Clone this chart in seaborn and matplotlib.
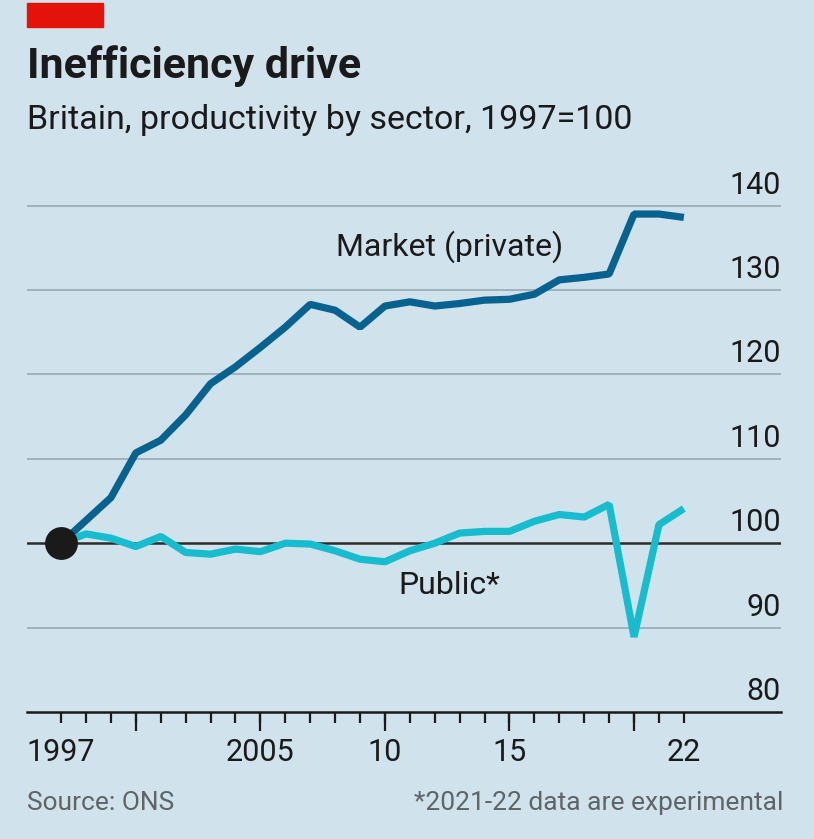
import matplotlib
matplotlib.use("Agg")
import matplotlib.pyplot as plt
import matplotlib.transforms as mtransforms
from matplotlib.patches import Rectangle
import numpy as np
import pandas as pd
import seaborn as sns

# ---- data ----
years = list(range(1997, 2023))
market = [100.0, 102.7, 105.4, 110.7, 112.2, 115.2, 118.9, 120.9, 123.2, 125.6,
          128.3, 127.6, 125.6, 128.1, 128.6, 128.1, 128.4, 128.8, 128.9, 129.5,
          131.2, 131.5, 131.9, 139.0, 139.0, 138.6]
public = [100.0, 101.1, 100.6, 99.6, 100.8, 98.9, 98.7, 99.3, 99.0, 100.0,
          99.9, 99.1, 98.1, 97.8, 99.1, 100.0, 101.2, 101.4, 101.4, 102.6,
          103.4, 103.1, 104.6, 88.9, 102.2, 104.1]
series_names = ["Market (private)", "Public*"]
y_ticks = [80, 90, 100, 110, 120, 130, 140]
x_label_pos = [1997, 2005, 2010, 2015, 2022]
x_label_txt = ["1997", "2005", "10", "15", "22"]
x_major = [2000, 2005, 2010, 2015, 2020]

BG = "#d0e2eb"
DARK = "#08628f"
CYAN = "#17bccf"
TXT = "#1a1a1a"
GREY = "#5f6468"

sns.set_theme(style="white")
plt.rcParams["font.family"] = ["Roboto", "DejaVu Sans"]

df = pd.DataFrame({
    "year": years * 2,
    "value": market + public,
    "sector": [series_names[0]] * len(years) + [series_names[1]] * len(years),
})

fig = plt.figure(figsize=(8.14, 8.39), dpi=100, facecolor=BG)
W, H = 814, 839
ax_left, ax_right = 27 / W, 781 / W
ax_bottom = (H - 712) / H
ax_top = (H - 163.4) / H
ax = fig.add_axes([ax_left, ax_bottom, ax_right - ax_left, ax_top - ax_bottom])
ax.set_facecolor(BG)

ax.set_xlim(1995.63, 2025.9)
ax.set_ylim(80, 145)

# gridlines
for v in y_ticks[1:]:
    if v == 100:
        ax.axhline(v, color="#2b2b2b", lw=1.8, zorder=1)
    else:
        ax.axhline(v, color="#9fb1bc", lw=1.4, zorder=1)

sns.lineplot(data=df, x="year", y="value", hue="sector",
             palette={series_names[0]: DARK, series_names[1]: CYAN},
             linewidth=5.2, legend=False, ax=ax, zorder=3,
             solid_joinstyle="bevel", solid_capstyle="butt")
sns.scatterplot(x=[years[0]], y=[market[0]], color="#1a1a1a", s=560,
                ax=ax, zorder=5, linewidth=0)

# spines
for s in ["top", "right", "left"]:
    ax.spines[s].set_visible(False)
ax.spines["bottom"].set_color("#1a1a1a")
ax.spines["bottom"].set_linewidth(1.8)

ax.set_xlabel("")
ax.set_ylabel("")
ax.set_yticks([])

# short yearly ticks on the main axis
ax.set_xticks(years)
ax.set_xticklabels([])
ax.tick_params(axis="x", which="major", bottom=True, length=8, width=1.6,
               color="#1a1a1a", direction="out")

# long ticks every five years
sec = ax.secondary_xaxis("bottom")
sec.set_xticks(x_major)
sec.set_xticklabels([])
sec.tick_params(axis="x", bottom=True, length=14, width=1.6, color="#1a1a1a",
                direction="out")
sec.spines["bottom"].set_visible(False)

# tick labels
lab = ax.secondary_xaxis("bottom")
lab.set_xticks(x_label_pos)
lab.set_xticklabels(x_label_txt)
lab.tick_params(axis="x", bottom=True, length=0, pad=19, labelsize=22, labelcolor=TXT)
lab.spines["bottom"].set_visible(False)

# y labels on the right, above the gridlines
trans = mtransforms.blended_transform_factory(ax.transAxes, ax.transData)
for v in y_ticks:
    ax.text(1.0, v + 0.7, str(v), transform=trans, ha="right", va="bottom",
            fontsize=22, color=TXT)

# series labels
ax.text(2012.6, 135.1, series_names[0], ha="center", va="center", fontsize=23, color=TXT)
ax.text(2012.6, 95.0, series_names[1], ha="center", va="center", fontsize=23, color=TXT)

# title block
fig.patches.append(Rectangle((27 / W, (H - 27) / H), 76 / W, 24 / H,
                             transform=fig.transFigure, color="#e3120b", zorder=10))
fig.text(27 / W, (H - 66) / H, "Inefficiency drive", ha="left", va="center",
         fontsize=31, fontweight="bold", color=TXT)
fig.text(27 / W, (H - 120) / H, "Britain, productivity by sector, 1997=100",
         ha="left", va="center", fontsize=24.5, color=TXT)

# footer
fig.text(27 / W, (H - 803) / H, "Source: ONS", ha="left", va="center",
         fontsize=19, color=GREY)
fig.text(783 / W, (H - 803) / H, "*2021-22 data are experimental", ha="right",
         va="center", fontsize=19, color=GREY)

fig.savefig("out.png", dpi=100, facecolor=BG)
